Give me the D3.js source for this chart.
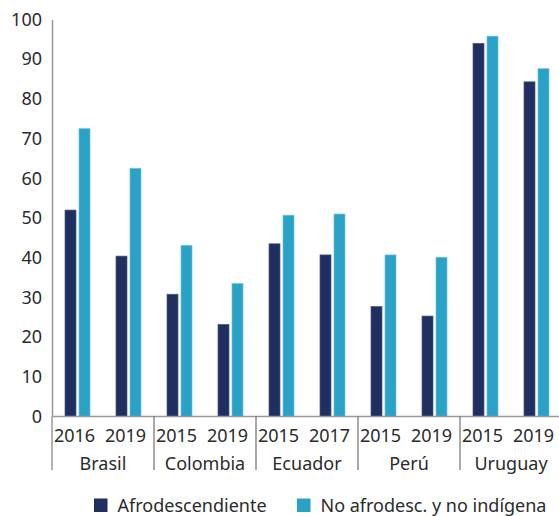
<!DOCTYPE html>
<html>
<head>
<meta charset="utf-8">
<script src="https://cdn.jsdelivr.net/npm/d3@7"></script>
<style>
  body { margin: 0; background: #fff; }
  text { font-family: "Noto Sans", sans-serif; fill: #2b2b2b; }
</style>
</head>
<body>
<svg id="chart"></svg>
<script>
// datos
var countries = ["Brasil", "Colombia", "Ecuador", "Perú", "Uruguay"];
var years = [["2016", "2019"], ["2015", "2019"], ["2015", "2017"], ["2015", "2019"], ["2015", "2019"]];
var afro = [52.0, 40.4, 30.8, 23.2, 43.5, 40.7, 27.7, 25.3, 94.0, 84.3];
var noAfro = [72.5, 62.5, 43.1, 33.5, 50.7, 51.0, 40.7, 40.1, 95.8, 87.6];
var seriesNames = ["Afrodescendiente", "No afrodesc. y no indígena"];
var yTicks = [0, 10, 20, 30, 40, 50, 60, 70, 80, 90, 100];

var colors = ["#1f2f5f", "#2aa1c7"];
var strokes = ["#4a5a85", "#6cc3de"];

var size = { width: 559, height: 516 };
var margin = { top: 19.5, right: -3, bottom: 99.5, left: 52 };
var width = size.width - margin.left - margin.right;
var height = size.height - margin.top - margin.bottom;

var svg = d3.select("#chart")
  .attr("width", size.width)
  .attr("height", size.height)
  .append("g")
  .attr("transform", "translate(" + margin.left + "," + margin.top + ")");

// una banda por año-país
var slots = [];
countries.forEach(function(c, i){
  years[i].forEach(function(yr, j){ slots.push({ country: c, year: yr, idx: slots.length }); });
});

var x = d3.scaleBand().domain(d3.range(slots.length)).range([0, width]);
var xc = d3.scaleBand().domain(countries).range([0, width]);
var y = d3.scaleLinear().domain([0, 100]).range([height, 0]);

var barW = 11, gap = 3;

// eje y
var yAxis = svg.append("g")
  .call(d3.axisLeft(y).tickValues(yTicks).tickSize(0).tickPadding(10));
yAxis.select(".domain").attr("stroke", "#999").attr("stroke-width", 1.5);
yAxis.selectAll("text").style("font-size", "18px").attr("fill", "#2b2b2b");

// barras
[afro, noAfro].forEach(function(vals, s){
  svg.append("g").selectAll("rect")
    .data(slots)
    .enter().append("rect")
    .attr("x", function(d){
      var c = x(d.idx) + x.bandwidth() / 2;
      return s === 0 ? c - gap / 2 - barW : c + gap / 2;
    })
    .attr("y", function(d){ return y(vals[d.idx]); })
    .attr("width", barW)
    .attr("height", function(d){ return height - y(vals[d.idx]); })
    .attr("fill", colors[s])
    .attr("stroke", strokes[s])
    .attr("stroke-width", 0.7);
});

// eje x
svg.append("line")
  .attr("x1", 0).attr("x2", width)
  .attr("y1", height).attr("y2", height)
  .attr("stroke", "#999").attr("stroke-width", 1.5);

// separadores
svg.append("g").selectAll("line")
  .data(countries)
  .enter().append("line")
  .attr("x1", function(d){ return xc(d); })
  .attr("x2", function(d){ return xc(d); })
  .attr("y1", height)
  .attr("y2", height + 53.5)
  .attr("stroke", function(d, i){ return i === 0 ? "#999" : "#555"; })
  .attr("stroke-width", function(d, i){ return i === 0 ? 1.5 : 1; });

svg.append("g").selectAll("text")
  .data(slots)
  .enter().append("text")
  .attr("x", function(d){ return x(d.idx) + x.bandwidth() / 2 - 3; })
  .attr("y", height + 25)
  .attr("text-anchor", "middle")
  .style("font-size", "18px")
  .text(function(d){ return d.year; });

svg.append("g").selectAll("text")
  .data(countries)
  .enter().append("text")
  .attr("x", function(d){ return xc(d) + xc.bandwidth() / 2; })
  .attr("y", height + 53.5)
  .attr("text-anchor", "middle")
  .style("font-size", "18px")
  .text(function(d){ return d; });

// leyenda
var legendX = [94 - margin.left, 297 - margin.left];
var legend = svg.append("g").attr("transform", "translate(0," + (498.5 - margin.top) + ")");
seriesNames.forEach(function(n, i){
  legend.append("rect")
    .attr("x", legendX[i]).attr("y", 0)
    .attr("width", 13.5).attr("height", 13.5)
    .attr("fill", colors[i]);
  legend.append("text")
    .attr("x", legendX[i] + 23.5).attr("y", 13.5)
    .style("font-size", "18px")
    .text(n);
});
</script>
</body>
</html>
